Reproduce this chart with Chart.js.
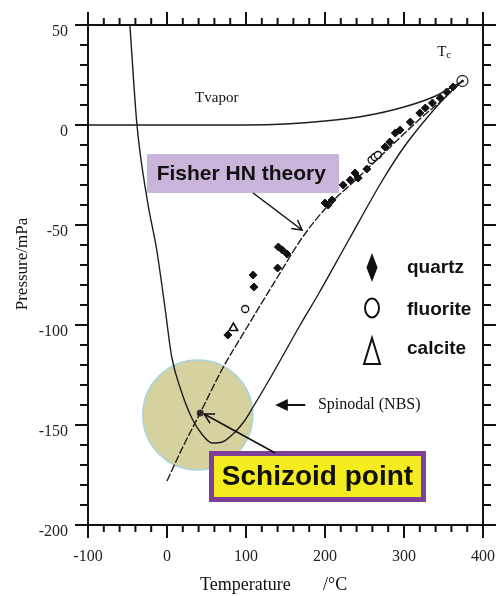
<!DOCTYPE html>
<html>
<head>
<meta charset="utf-8">
<script src="https://cdn.jsdelivr.net/npm/chart.js@4.4.1/dist/chart.umd.min.js"></script>
<style>
html,body{margin:0;padding:0;background:#fff;}
</style>
</head>
<body>
<canvas id="chart" width="496" height="596"></canvas>
<script>
// axis ranges
var tempMin = -100, tempMax = 400;
var presMin = -200, presMax = 50;

// vapour pressure curve (Tvapor)
var vaporT = [-100, 100, 150, 200, 250, 300, 340, 374];
var vaporP = [0, 0, 0.5, 2, 4.5, 9, 14.5, 22];

// spinodal (NBS)
var spinT = [-47, -38, -25, -13, -3, 6, 18, 32, 45, 57, 70, 85, 98, 109, 130, 170, 191, 230, 273, 300, 330, 355, 374];
var spinP = [50, 0, -37.5, -62.5, -90, -116, -133, -147, -155, -159, -158.5, -154, -148, -141, -127, -99, -85, -57.5, -27.5, -11, 4, 15, 22];

// Fisher HN theory
var fisherT = [0, 20, 42, 70, 100, 140, 170, 200, 240, 280, 320, 350, 374];
var fisherP = [-178, -161, -144, -122, -102, -76, -57, -42, -27, -12, 3, 13, 22];

// measurements
var quartzT = [77, 110, 109, 140, 141, 146, 152, 200, 204, 209, 223, 232, 238, 242, 253, 276, 282, 289, 295, 308, 320, 327, 336, 346, 354, 362];
var quartzP = [-105, -81, -75, -71.5, -61, -62.5, -64.5, -39, -40, -37.5, -30, -27.5, -24, -26.5, -22, -11, -8.5, -4, -2.5, 1.5, 6, 8.5, 11, 13.5, 16.5, 19];
var fluoriteT = [99, 259, 263, 267];
var fluoriteP = [-92, -17.5, -16, -15];
var calciteT = [84];
var calciteP = [-101.5];

// critical point and schizoid point
var critT = [374];
var critP = [22];
var schizT = [42];
var schizP = [-144];
var zoneR = [55];

function pts(xs, ys) {
    return xs.map(function(x, i) { return {x: x, y: ys[i]}; });
}

var lineStyle = {showLine: true, borderColor: '#1e1e1e', borderWidth: 1.4, pointRadius: 0, cubicInterpolationMode: 'monotone', fill: false};

var decor = {
    id: 'decor',
    afterDraw: function(chart) {
        var ctx = chart.ctx, a = chart.chartArea;
        var sx = chart.scales.x, sy = chart.scales.y;
        function X(v) { return sx.getPixelForValue(v); }
        function Y(v) { return sy.getPixelForValue(v); }
        function seg(x1, y1, x2, y2) { ctx.beginPath(); ctx.moveTo(x1, y1); ctx.lineTo(x2, y2); ctx.stroke(); }
        function arrow(x1, y1, x2, y2, filled) {
            var ang = Math.atan2(y2 - y1, x2 - x1), L = filled ? 14 : 11, W = filled ? 0.45 : 0.5;
            seg(x1, y1, filled ? x2 - Math.cos(ang) * 8 : x2, filled ? y2 - Math.sin(ang) * 8 : y2);
            ctx.beginPath();
            ctx.moveTo(x2 - L * Math.cos(ang - W), y2 - L * Math.sin(ang - W));
            ctx.lineTo(x2, y2);
            ctx.lineTo(x2 - L * Math.cos(ang + W), y2 - L * Math.sin(ang + W));
            if (filled) { ctx.closePath(); ctx.fill(); } else { ctx.stroke(); }
        }
        ctx.save();
        ctx.strokeStyle = '#111';
        ctx.fillStyle = '#111';
        // frame and ticks on all four sides
        ctx.lineWidth = 2;
        ctx.strokeRect(a.left, a.top, a.right - a.left, a.bottom - a.top);
        var t, len, p;
        for (t = tempMin; t <= tempMax; t += 20) {
            len = t % 100 === 0 ? 13 : 7;
            seg(X(t), a.bottom, X(t), a.bottom + len);
            seg(X(t), a.top, X(t), a.top - len);
        }
        for (p = presMin; p <= presMax; p += 10) {
            len = p % 50 === 0 ? 13 : 8;
            seg(a.left, Y(p), a.left - len, Y(p));
            seg(a.right, Y(p), a.right + len, Y(p));
        }

        // axis titles
        ctx.textBaseline = 'middle';
        ctx.font = '18px "Liberation Serif"';
        ctx.textAlign = 'left';
        ctx.fillText('Temperature', 200, 585);
        ctx.fillText('/°C', 323, 585);
        ctx.save();
        ctx.translate(23, 264);
        ctx.rotate(-Math.PI / 2);
        ctx.textAlign = 'center';
        ctx.font = '17px "Liberation Serif"';
        ctx.fillText('Pressure/mPa', 0, 0);
        ctx.restore();

        // curve labels
        ctx.font = '15px "Liberation Serif"';
        ctx.textAlign = 'center';
        ctx.fillText('Tvapor', X(63), Y(13.5));
        ctx.textAlign = 'left';
        ctx.fillText('T', X(342), Y(36.5));
        ctx.font = '11px "Liberation Serif"';
        ctx.fillText('c', X(342) + 9, Y(35));
        ctx.font = '16px "Liberation Serif"';
        ctx.fillText('Spinodal (NBS)', X(191), Y(-140));
        ctx.lineWidth = 2;
        arrow(X(175), Y(-140), X(137), Y(-140), true);

        // Fisher HN theory box
        ctx.fillStyle = '#c9b4da';
        ctx.fillRect(X(-25.3), Y(-14.5), X(217.7) - X(-25.3), Y(-34) - Y(-14.5));
        ctx.fillStyle = '#111';
        ctx.font = 'bold 21px "Liberation Sans"';
        ctx.textAlign = 'center';
        ctx.fillText('Fisher HN theory', X(94), Y(-24.5));
        ctx.lineWidth = 1.5;
        arrow(X(109), Y(-34), X(171), Y(-52.5), false);

        // Schizoid point box
        var bx = X(53.2), by = Y(-163), bw = X(327.8) - X(53.2), bh = Y(-188.5) - Y(-163);
        ctx.fillStyle = '#7d3f98';
        ctx.fillRect(bx, by, bw, bh);
        ctx.fillStyle = '#f4ec1e';
        ctx.fillRect(bx + 5, by + 5, bw - 10, bh - 10);
        ctx.fillStyle = '#111';
        ctx.font = 'bold 28px "Liberation Sans"';
        ctx.fillText('Schizoid point', bx + bw / 2, by + bh / 2 + 1);
        ctx.lineWidth = 1.5;
        arrow(X(137), Y(-164), X(47), Y(-144.5), false);

        // legend
        var lx = X(259.5);
        ctx.beginPath();
        ctx.moveTo(lx, Y(-71.25) - 14.5);
        ctx.lineTo(lx + 5.5, Y(-71.25));
        ctx.lineTo(lx, Y(-71.25) + 14.5);
        ctx.lineTo(lx - 5.5, Y(-71.25));
        ctx.closePath();
        ctx.fill();
        ctx.lineWidth = 2;
        ctx.beginPath();
        ctx.ellipse(lx, Y(-91.5), 7, 9.5, 0, 0, Math.PI * 2);
        ctx.stroke();
        ctx.beginPath();
        ctx.moveTo(lx, Y(-113) - 13);
        ctx.lineTo(lx + 8, Y(-113) + 13);
        ctx.lineTo(lx - 8, Y(-113) + 13);
        ctx.closePath();
        ctx.stroke();
        ctx.font = 'bold 19px "Liberation Sans"';
        ctx.textAlign = 'left';
        ctx.fillText('quartz', X(303.8), Y(-71.5));
        ctx.fillText('fluorite', X(303.8), Y(-92.5));
        ctx.fillText('calcite', X(303.8), Y(-112));
        ctx.restore();
    }
};

new Chart(document.getElementById('chart').getContext('2d'), {
    type: 'scatter',
    data: {
        datasets: [
            Object.assign({label: 'Tvapor', data: pts(vaporT, vaporP)}, lineStyle),
            Object.assign({label: 'Spinodal (NBS)', data: pts(spinT, spinP)}, lineStyle),
            Object.assign({label: 'Fisher HN theory', data: pts(fisherT, fisherP), borderDash: [8, 2]}, lineStyle),
            {label: 'quartz', data: pts(quartzT, quartzP), pointStyle: 'rectRot', pointRadius: 4,
             backgroundColor: '#111', borderColor: '#111', borderWidth: 1},
            {label: 'fluorite', data: pts(fluoriteT, fluoriteP), pointStyle: 'circle', pointRadius: 3.5,
             backgroundColor: '#fff', borderColor: '#111', borderWidth: 1.3},
            {label: 'calcite', data: pts(calciteT, calciteP), pointStyle: 'triangle', pointRadius: 5,
             backgroundColor: '#fff', borderColor: '#111', borderWidth: 1.6},
            {label: 'Tc dot', data: pts(critT, critP), pointRadius: 1.6, backgroundColor: '#333', borderColor: '#333', borderWidth: 0},
            {label: 'Tc', data: pts(critT, critP), pointStyle: 'circle', pointRadius: 5.5,
             backgroundColor: '#fff', borderColor: '#333', borderWidth: 1.3},
            {label: 'Schizoid point', data: pts(schizT, schizP), pointRadius: 3.5, backgroundColor: '#333', borderColor: '#333', borderWidth: 0},
            {type: 'bubble', label: 'zone', order: 10,
             data: schizT.map(function(x, i) { return {x: x - 3, y: schizP[i] - 1, r: zoneR[i]}; }),
             backgroundColor: 'rgb(214,210,160)', borderColor: '#a9d3dd', borderWidth: 1.5}
        ]
    },
    options: {
        responsive: false,
        animation: false,
        events: [],
        layout: {autoPadding: false, padding: {top: 25, right: 13, left: 0, bottom: 0}},
        plugins: {legend: {display: false}, tooltip: {enabled: false}},
        scales: {
            x: {
                type: 'linear', min: tempMin, max: tempMax,
                grid: {display: false, drawTicks: false}, border: {display: false},
                ticks: {stepSize: 100, autoSkip: false, padding: 22, color: '#222',
                        font: {family: 'Liberation Serif', size: 16}},
                afterFit: function(s) { s.height = 71; s.paddingLeft = 0; s.paddingRight = 0; }
            },
            y: {
                type: 'linear', min: presMin, max: presMax,
                grid: {display: false, drawTicks: false}, border: {display: false},
                ticks: {stepSize: 50, autoSkip: false, padding: 20, labelOffset: 7, color: '#222',
                        font: {family: 'Liberation Serif', size: 16}},
                afterFit: function(s) { s.width = 88; s.paddingTop = 0; s.paddingBottom = 0; }
            }
        }
    },
    plugins: [decor]
});
</script>
</body>
</html>
